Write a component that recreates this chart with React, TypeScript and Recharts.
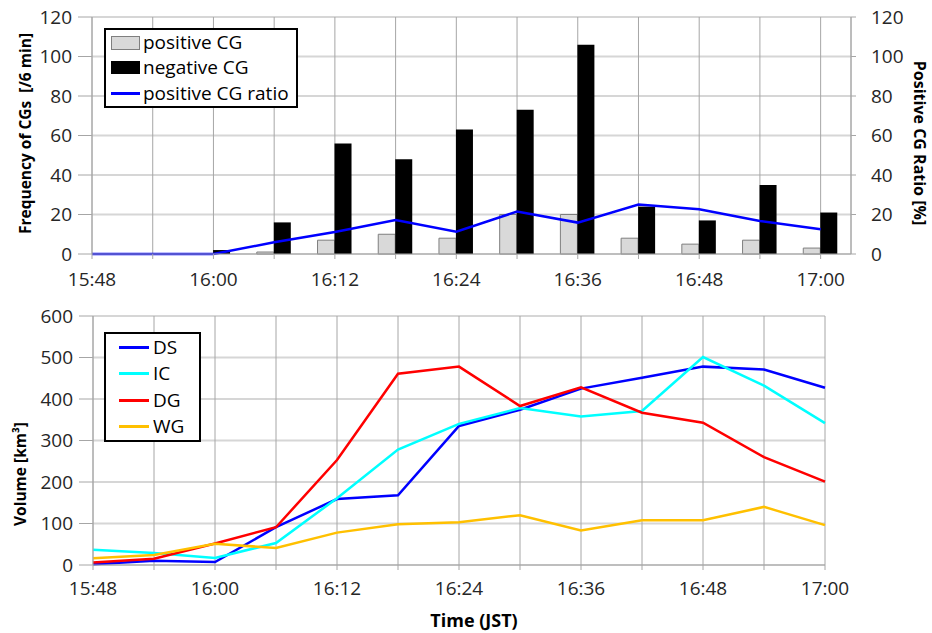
import { ComposedChart, LineChart, Bar, Line, XAxis, YAxis, CartesianGrid, Legend } from "recharts";

// 6-minute bins, 15:48 - 17:00 JST
const times = ["15:48", "15:54", "16:00", "16:06", "16:12", "16:18", "16:24", "16:30", "16:36", "16:42", "16:48", "16:54", "17:00"];

// CG flashes per 6 min
const positiveCG = [0, 0, 0, 1, 7, 10, 8, 20, 20, 8, 5, 7, 3];
const negativeCG = [0, 0, 2, 16, 56, 48, 63, 73, 106, 24, 17, 35, 21];
const cgRatio = [0, 0, 0, 5.9, 11.1, 17.2, 11.3, 21.5, 15.9, 25, 22.7, 16.7, 12.5];

// volumes [km3]
const volDS = [2, 10, 7, 91, 159, 168, 335, 374, 425, 451, 478, 471, 427];
const volIC = [37, 29, 17, 53, 161, 278, 340, 378, 358, 371, 501, 432, 342];
const volDG = [6, 15, 52, 91, 253, 461, 478, 383, 428, 367, 343, 260, 201];
const volWG = [16, 24, 51, 41, 78, 98, 103, 120, 83, 108, 108, 140, 96];

const cgTicks = [0, 20, 40, 60, 80, 100, 120];
const volTicks = [0, 100, 200, 300, 400, 500, 600];

const toMinutes = (t: string) => {
    const [h, m] = t.split(":").map(Number);
    return h * 60 + m;
};
const t0 = toMinutes(times[0]);
const minuteTicks = times.map((t) => toMinutes(t) - t0);

const cgData = times.map((t, i) => ({
    min: minuteTicks[i],
    positive: positiveCG[i],
    negative: negativeCG[i],
    ratio: cgRatio[i],
}));

const volData = times.map((t, i) => ({
    min: minuteTicks[i],
    DS: volDS[i],
    IC: volIC[i],
    DG: volDG[i],
    WG: volWG[i],
}));

const FONT = '"Open Sans", sans-serif';
const GRID_H = "#d6d6d6";
const GRID_V = "#a6a6a6";
const AXIS = "#a6a6a6";
const tickStyle = { fill: "#262626", fontSize: 19, fontFamily: FONT };

// label only every other 6-min tick (12 min)
const fmtTime = (v: number) => {
    const i = minuteTicks.indexOf(v);
    return i % 2 === 0 ? times[i] : "";
};

// axis title drawn relative to the axis box
const axisTitle = (text: string, angle: number, dx: number, dy: number, size = 16) => (props: any) => {
    const vb = props.viewBox;
    const cx = vb.x + vb.width / 2 + dx;
    const cy = vb.y + vb.height / 2 + dy;
    return (
        <text
            x={cx}
            y={cy}
            transform={`rotate(${angle} ${cx} ${cy})`}
            textAnchor="middle"
            dominantBaseline="central"
            style={{ fontFamily: FONT, fontSize: size, fontWeight: 700, fill: "#000", whiteSpace: "pre" }}
        >
            {text}
        </text>
    );
};

const legendBox = {
    border: "2px solid #000",
    background: "#fff",
    boxSizing: "border-box" as const,
    fontFamily: FONT,
    fontSize: 19,
    color: "#000",
    lineHeight: 1,
};

function CgLegend() {
    const rows = [
        { name: "positive CG", swatch: <div style={{ width: 28, height: 12, background: "#d9d9d9", border: "1px solid #7f7f7f" }} /> },
        { name: "negative CG", swatch: <div style={{ width: 29, height: 13, background: "#000" }} /> },
        { name: "positive CG ratio", swatch: <div style={{ width: 29, height: 3, background: "#0000ff" }} /> },
    ];
    return (
        <div style={{ ...legendBox, width: 194, height: 80, padding: "0 0 0 5px" }}>
            {rows.map((r) => (
                <div key={r.name} style={{ display: "flex", alignItems: "center", height: 25.3 }}>
                    <div style={{ width: 29, display: "flex", alignItems: "center" }}>{r.swatch}</div>
                    <span style={{ marginLeft: 3 }}>{r.name}</span>
                </div>
            ))}
        </div>
    );
}

const volSeries = [
    { key: "DS", color: "#0000ff" },
    { key: "IC", color: "#00ffff" },
    { key: "DG", color: "#ff0000" },
    { key: "WG", color: "#ffc000" },
];

function VolLegend() {
    return (
        <div style={{ ...legendBox, width: 97, height: 110, padding: "0 0 0 13px" }}>
            {volSeries.map((s) => (
                <div key={s.key} style={{ display: "flex", alignItems: "center", height: 26.5 }}>
                    <div style={{ width: 30, height: 3, background: s.color }} />
                    <span style={{ marginLeft: 4 }}>{s.key}</span>
                </div>
            ))}
        </div>
    );
}

export default function App() {
    return (
        <div style={{ position: "absolute", left: 0, top: 0, width: 932, height: 633, background: "#fff" }}>
            <ComposedChart width={932} height={300} data={cgData} margin={{ top: 17, right: 0, left: 0, bottom: 0 }} barGap={0}>
                <CartesianGrid yAxisId="left" vertical={false} stroke={GRID_H} strokeWidth={2} />
                <CartesianGrid yAxisId="left" horizontal={false} stroke={GRID_V} strokeWidth={1} />
                <XAxis
                    type="number"
                    dataKey="min"
                    domain={[0, 75]}
                    ticks={minuteTicks}
                    interval={0}
                    tickFormatter={fmtTime}
                    height={46}
                    tick={tickStyle}
                    tickSize={5}
                    tickMargin={14}
                    stroke={AXIS}
                />
                <YAxis
                    yAxisId="left"
                    domain={[0, 120]}
                    ticks={cgTicks}
                    width={92}
                    tick={tickStyle}
                    tickSize={14}
                    tickMargin={6}
                    stroke={AXIS}
                    label={axisTitle("Frequency of CGs  [/6 min]", -90, -21, -2, 15.5)}
                />
                <YAxis
                    yAxisId="right"
                    orientation="right"
                    domain={[0, 120]}
                    ticks={cgTicks}
                    width={81}
                    tick={{ ...tickStyle, textAnchor: "start" }}
                    tickSize={5}
                    tickMargin={15}
                    stroke={AXIS}
                    label={axisTitle("Positive CG Ratio [%]", 90, 28.5, 7.5, 16)}
                />
                <Bar yAxisId="left" dataKey="positive" barSize={17} fill="#d9d9d9" stroke="#7f7f7f" strokeWidth={1} isAnimationActive={false} />
                <Bar yAxisId="left" dataKey="negative" barSize={17} fill="#000000" isAnimationActive={false} />
                <Line yAxisId="right" type="linear" dataKey="ratio" stroke="#0000ff" strokeWidth={2.5} dot={false} isAnimationActive={false} />
                <Legend
                    layout="vertical"
                    align="center"
                    verticalAlign="middle"
                    content={<CgLegend />}
                    wrapperStyle={{ position: "absolute", left: 104, top: 28, width: 194, height: 80 }}
                />
            </ComposedChart>
            <LineChart width={932} height={333} data={volData} margin={{ top: 16, right: 107, left: 0, bottom: 0 }}>
                <CartesianGrid vertical={false} stroke={GRID_H} strokeWidth={2} />
                <CartesianGrid horizontal={false} stroke={GRID_V} strokeWidth={1} />
                <XAxis
                    type="number"
                    dataKey="min"
                    domain={[0, 72]}
                    ticks={minuteTicks}
                    interval={0}
                    tickFormatter={fmtTime}
                    height={68}
                    tick={tickStyle}
                    tickSize={5}
                    tickMargin={12}
                    stroke={AXIS}
                    label={axisTitle("Time (JST)", 0, 15, 21, 18)}
                />
                <YAxis
                    domain={[0, 600]}
                    ticks={volTicks}
                    width={93}
                    tick={tickStyle}
                    tickSize={14}
                    tickMargin={6}
                    stroke={AXIS}
                    label={axisTitle("Volume [km³]", -90, -26.5, 33.5, 15.5)}
                />
                {volSeries.map((s) => (
                    <Line key={s.key} type="linear" dataKey={s.key} stroke={s.color} strokeWidth={2.5} dot={false} isAnimationActive={false} />
                ))}
                <Legend
                    layout="vertical"
                    align="center"
                    verticalAlign="middle"
                    content={<VolLegend />}
                    wrapperStyle={{ position: "absolute", left: 104, top: 32, width: 97, height: 110 }}
                />
            </LineChart>
        </div>
    );
}
